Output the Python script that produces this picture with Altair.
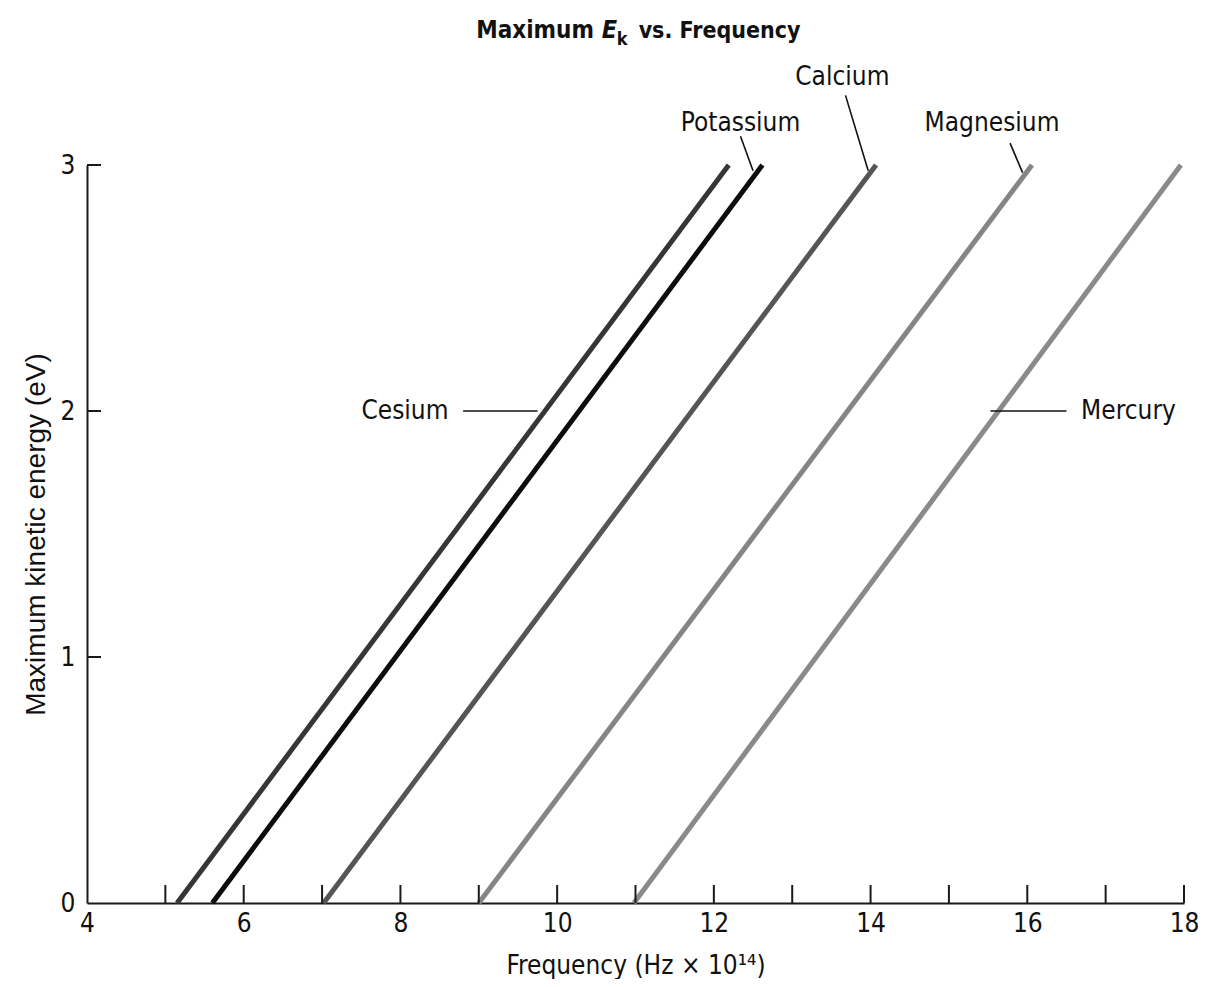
import altair as alt
import pandas as pd

# ---- data ----
metals = ["Cesium", "Potassium", "Calcium", "Magnesium", "Mercury"]
freq_start = [5.15, 5.60, 7.02, 9.00, 10.98]      # x (Hz x 10^14) where Ek = 0
freq_end = [12.19, 12.62, 14.07, 16.06, 17.96]    # x where Ek = 3 eV
ek_start = [0, 0, 0, 0, 0]
ek_end = [3, 3, 3, 3, 3]
line_colors = ["#363636", "#0d0d0d", "#555555", "#858585", "#8a8a8a"]

# annotation labels and leader lines (data coordinates)
label_x = [8.69, 12.34, 13.64, 15.55, 16.61]
label_y = [2.0, 3.17, 3.356, 3.17, 2.0]
label_align = ["right", "center", "center", "center", "left"]
leader_x = [8.80, 12.34, 13.68, 15.78, 15.53]
leader_y = [2.0, 3.117, 3.283, 3.089, 2.0]
leader_x2 = [9.75, 12.50, 13.97, 15.94, 16.50]
leader_y2 = [2.0, 2.977, 2.977, 2.969, 2.0]

x_tick_values = list(range(5, 19))
x_label_values = [4, 6, 8, 10, 12, 14, 16, 18]
y_tick_values = [1, 2, 3]
y_label_values = [0, 1, 2, 3]

title_parts = ["Maximum", "E", "k", "vs. Frequency"]
title_x = [10.47, 10.57, 10.76, 11.04]
title_y = 3.515

FONT = "DejaVu Sans Condensed, Roboto, sans-serif"
W, H = 1097, 738

# ---- tables ----
rows = []
for m, f0, f1, e0, e1 in zip(metals, freq_start, freq_end, ek_start, ek_end):
    rows.append({"metal": m, "f": f0, "ek": e0, "o": 0})
    rows.append({"metal": m, "f": f1, "ek": e1, "o": 1})
lines_df = pd.DataFrame(rows)

labels_df = pd.DataFrame({"metal": metals, "x": label_x, "y": label_y, "align": label_align})
leaders_df = pd.DataFrame({"x": leader_x, "y": leader_y, "x2": leader_x2, "y2": leader_y2})
xt_df = pd.DataFrame({"x": x_tick_values})
yt_df = pd.DataFrame({"y": y_tick_values})

xscale = alt.Scale(domain=[4, 18], nice=False, zero=False)
yscale = alt.Scale(domain=[0, 3], nice=False, zero=True)

lines = alt.Chart(lines_df).mark_line(strokeWidth=5, strokeCap="butt").encode(
    x=alt.X("f:Q", scale=xscale,
            axis=alt.Axis(values=x_label_values, format="d", ticks=False, grid=False,
                          domainColor="#1a1a1a", domainWidth=2,
                          labelFont=FONT, labelFontSize=26, labelColor="#111",
                          labelPadding=7, labelFlush=False,
                          title="Frequency (Hz \u00d7 10\u00b9\u2074)",
                          titleFont=FONT, titleFontSize=26, titleFontWeight="normal",
                          titleColor="#111", titlePadding=16)),
    y=alt.Y("ek:Q", scale=yscale,
            axis=alt.Axis(values=y_label_values, format="d", ticks=False, grid=False,
                          domainColor="#1a1a1a", domainWidth=2,
                          labelFont=FONT, labelFontSize=26, labelColor="#111",
                          labelPadding=12, labelFlush=False,
                          title="Maximum kinetic energy (eV)",
                          titleFont="Liberation Sans", titleFontSize=28,
                          titleFontWeight="normal", titleColor="#111",
                          titlePadding=10)),
    color=alt.Color("metal:N", scale=alt.Scale(domain=metals, range=line_colors), legend=None),
    order="o:Q",
)

x_ticks = alt.Chart(xt_df).mark_rule(color="#1a1a1a", strokeWidth=2).encode(
    x=alt.X("x:Q", scale=xscale), y=alt.value(H), y2=alt.value(H - 18)
)
y_ticks = alt.Chart(yt_df).mark_rule(color="#1a1a1a", strokeWidth=2).encode(
    y=alt.Y("y:Q", scale=yscale), x=alt.value(0), x2=alt.value(14)
)

leaders = alt.Chart(leaders_df).mark_rule(color="#111", strokeWidth=1.6).encode(
    x=alt.X("x:Q", scale=xscale), y=alt.Y("y:Q", scale=yscale),
    x2="x2:Q", y2="y2:Q"
)

label_layers = []
for al in ["right", "center", "left"]:
    label_layers.append(
        alt.Chart(labels_df[labels_df["align"] == al]).mark_text(
            font=FONT, fontSize=26, color="#111", align=al, baseline="middle",
            dx=(-6 if al == "right" else (6 if al == "left" else 0))
        ).encode(
            x=alt.X("x:Q", scale=xscale), y=alt.Y("y:Q", scale=yscale), text="metal:N"
        )
    )

title_styles = [
    dict(align="right", fontStyle="normal", fontSize=24, dy=0),
    dict(align="left", fontStyle="italic", fontSize=25, dy=0),
    dict(align="left", fontStyle="normal", fontSize=18, dy=7),
    dict(align="left", fontStyle="normal", fontSize=23, dy=0),
]
title_layers = []
for txt, tx, st in zip(title_parts, title_x, title_styles):
    df = pd.DataFrame({"t": [txt], "x": [tx], "y": [title_y]})
    title_layers.append(
        alt.Chart(df).mark_text(
            font=FONT, fontWeight="bold", color="#111", baseline="alphabetic",
            **st
        ).encode(x=alt.X("x:Q", scale=xscale), y=alt.Y("y:Q", scale=yscale), text="t:N")
    )

chart = alt.layer(lines, x_ticks, y_ticks, leaders, *label_layers, *title_layers).properties(
    width=W, height=H,
    autosize=alt.AutoSizeParams(type="none"),
    padding={"left": 79, "top": 157, "right": 14, "bottom": 76},
    background="white",
).configure_view(stroke=None)

chart.save("out.html", embed_options={"renderer": "svg", "actions": False})
